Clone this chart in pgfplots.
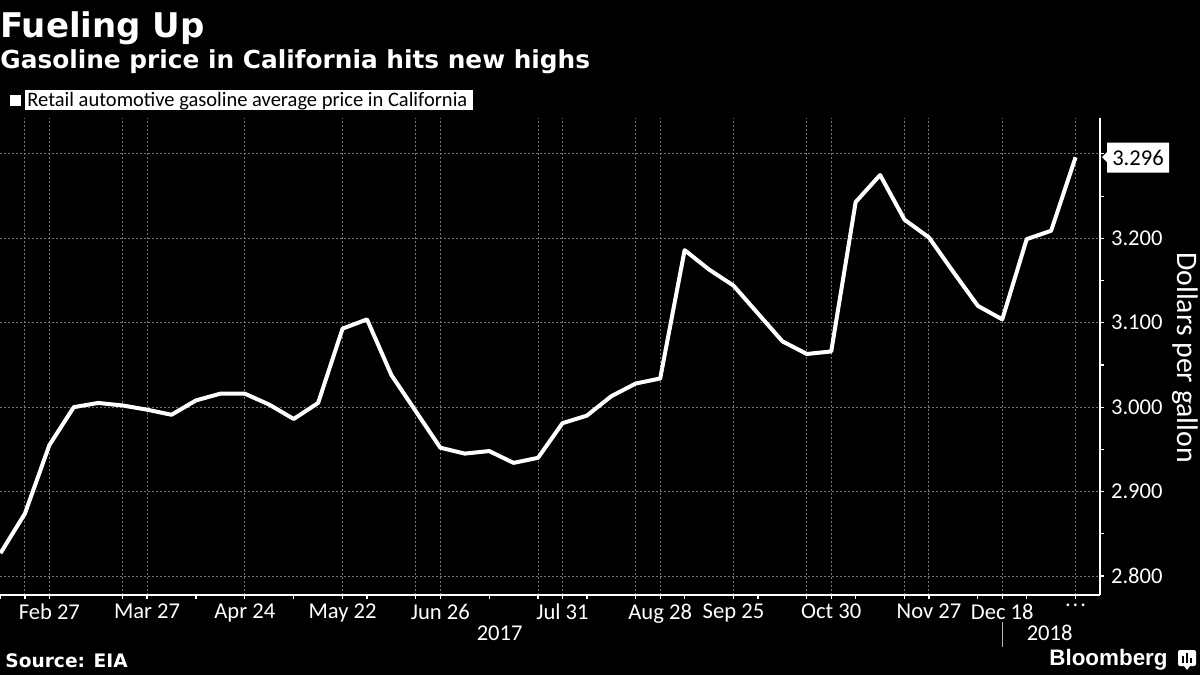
\documentclass[border=0pt]{standalone}
\usepackage{pgfplots}
\pgfplotsset{compat=1.18}
\usepackage{fontspec}
\setmainfont{Carlito}
\newfontfamily\titlefont{DejaVu Sans}
\newfontfamily\bbfont{Liberation Sans}

\begin{document}
\begin{tikzpicture}
\fill[black] (0,0) rectangle (600pt,-337.5pt);
\begin{axis}[
  at={(0pt,-297.5pt)}, anchor=south west,
  scale only axis, width=550pt, height=238.5pt,
  xmin=-0.02, xmax=45, ymin=2.7775, ymax=3.3425,
  axis x line*=bottom, axis y line*=right,
  axis line style={white, line width=0.7pt, -},
  every tick/.style={white, line width=0.6pt},
  tick align=outside,
  major tick length=2pt, minor tick length=2pt,
  xtick={1,2,5,6,10,14,17,18,22,23,26,27,30,33,34,37,38,41,44},
  xticklabels={,Feb 27,,Mar 27,Apr 24,May 22,,Jun 26,,Jul 31,,Aug 28,Sep 25,,Oct 30,,Nov 27,Dec 18,{.\kern1pt.\kern1pt.}},
  minor xtick={0,8,12,15,20,24,28,31,35,40,42},
  xticklabel style={yshift=1pt},
  ytick={2.8,2.9,3.0,3.1,3.2,3.3},
  yticklabels={2.800,2.900,3.000,3.100,3.200,{}},
  minor ytick={2.85,2.95,3.05,3.15,3.25},
  xmajorgrids, ymajorgrids,
  major grid style={draw=white!45!black, line width=0.5pt, dash pattern=on 1pt off 1pt},
  ticklabel style={white, font=\fontsize{11.3pt}{13pt}\selectfont},
  clip=false,
]
\addplot[white, line width=2pt, line join=round] coordinates {
(0,2.827)(1,2.874)(2,2.955)(3,3.000)(4,3.005)(5,3.002)(6,2.997)(7,2.991)(8,3.008)(9,3.016)(10,3.016)(11,3.003)(12,2.986)(13,3.005)(14,3.093)(15,3.104)(16,3.038)(17,2.995)(18,2.952)(19,2.945)(20,2.948)(21,2.934)(22,2.940)(23,2.981)(24,2.990)(25,3.013)(26,3.028)(27,3.034)(28,3.186)(29,3.163)(30,3.144)(31,3.111)(32,3.078)(33,3.063)(34,3.066)(35,3.243)(36,3.275)(37,3.222)(38,3.201)(39,3.160)(40,3.120)(41,3.104)(42,3.199)(43,3.209)(44,3.296)};
% years
\node[white, inner sep=0, font=\fontsize{11.3pt}{13pt}\selectfont] at ([yshift=-19pt]axis cs:20.43,2.7775) {2017};
\node[white, inner sep=0, font=\fontsize{11.3pt}{13pt}\selectfont] at ([yshift=-19pt]axis cs:42.94,2.7775) {2018};
\draw[white!70!black, line width=0.5pt] ([yshift=-13.5pt]axis cs:41,2.7775) -- ([yshift=-26pt]axis cs:41,2.7775);
\end{axis}
\begin{scope}[x=0.5pt,y=-0.5pt]
% last-value callout (3.296)
\fill[white] (1102,157.2) -- (1107,152.2) -- (1107,142.5) -- (1169,142.5) -- (1169,172.5) -- (1107,172.5) -- (1107,162.2) -- cycle;
\node[black, inner sep=0, font=\fontsize{11.3pt}{13pt}\selectfont] at (1138,157.5) {3.296};
\node[anchor=base west, inner sep=0, white, font=\titlefont\bfseries\fontsize{17pt}{20pt}\selectfont] at (0,37) {Fueling Up};
\node[anchor=base west, inner sep=0, white, font=\titlefont\bfseries\fontsize{12.4pt}{15pt}\selectfont] at (0,68) {Gasoline price in California hits new highs};
\fill[white] (10,95) rectangle (21,106);
\fill[white] (25,90) rectangle (473,110);
\node[anchor=base west, inner sep=0, black, font=\fontsize{10.25pt}{12pt}\selectfont] at (27,106) {Retail automotive gasoline average price in California};
\node[rotate=-90, white, inner sep=0, font=\fontsize{14.9pt}{17pt}\selectfont] at (1185,357.5) {Dollars per gallon};
\node[anchor=base west, inner sep=0, white, font=\titlefont\bfseries\fontsize{9.3pt}{11pt}\selectfont] at (5,667.5) {Source: EIA};
\node[anchor=base west, inner sep=0, white, font=\bbfont\bfseries\fontsize{11.2pt}{13pt}\selectfont] at (1049,665) {Bloomberg};
\fill[white, rounded corners=1pt] (1178,650) rectangle (1196,666);
\fill[white] (1184,666) -- (1190,666) -- (1187,670) -- cycle;
\fill[black] (1182,656) rectangle (1184,663);
\fill[black] (1186,653) rectangle (1188,663);
\fill[black] (1190,658) rectangle (1192,663);
\end{scope}
\pgfresetboundingbox
\useasboundingbox (0,0) rectangle (600pt,-337.5pt);
\end{tikzpicture}
\end{document}
